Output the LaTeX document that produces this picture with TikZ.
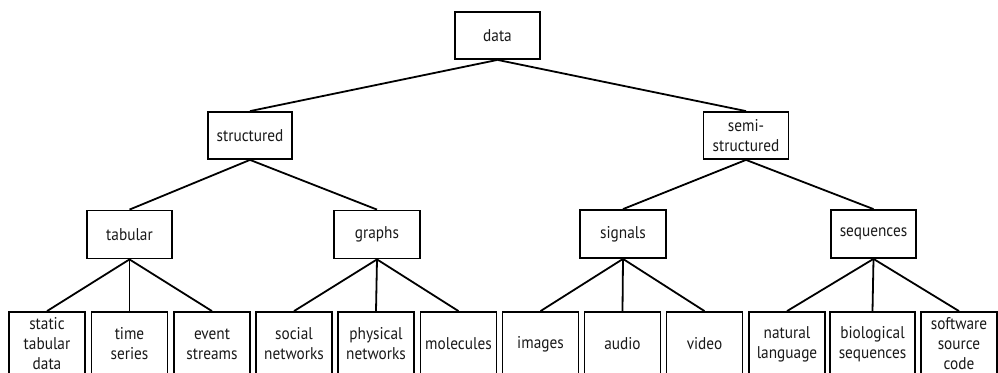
\documentclass[tikz,border=0pt]{standalone}
\usepackage{fontspec}
\setmainfont{PT Sans}[FakeStretch=0.9]
\begin{document}
\begin{tikzpicture}[x=1pt,y=-1pt,
  box/.style={draw=black, line width=1.8pt, fill=white, inner sep=0pt, align=center,
    font=\fontsize{17}{20}\selectfont, text=black!90},
  inner/.style={box, minimum height=47pt},
  leaf/.style={box, minimum width=76pt, minimum height=64pt},
  edge/.style={line width=1.8pt, black}]
\useasboundingbox (0,0) rectangle (998,372);
\clip (0,0) rectangle (998,372);

% root and first level
\node[inner, minimum width=85pt] (data) at (497.5,35.5) {data};
\node[inner, minimum width=84pt] (str) at (250,135.5) {structured};
\node[inner, minimum width=85pt] (semi) at (746,135.5) {semi-\\structured};

% second level
\node[inner, minimum width=85pt, minimum height=48pt] (tab) at (129.5,234.5) {tabular};
\node[inner, minimum width=86pt, minimum height=48pt] (gra) at (377,234.5) {graphs};
\node[inner, minimum width=86pt, minimum height=48pt] (sig) at (623,234) {signals};
\node[inner, minimum width=85pt, minimum height=48pt] (seq) at (873.5,234) {sequences};

% leaves
\node[leaf] (l1) at (47,344) {static\\tabular\\data};
\node[leaf] (l2) at (129.5,344) {time\\series};
\node[leaf] (l3) at (212,344) {event\\streams};
\node[leaf] (l4) at (294,344) {social\\networks};
\node[leaf] (l5) at (376,344) {physical\\networks};
\node[leaf] (l6) at (458.5,344) {molecules};
\node[leaf] (l7) at (540.5,344) {images};
\node[leaf] (l8) at (622.5,344) {audio};
\node[leaf] (l9) at (704.5,344) {video};
\node[leaf] (l10) at (787,344) {natural\\language};
\node[leaf, minimum width=85pt] (l11) at (872.5,344) {biological\\sequences};
\node[leaf] (l12) at (959,344) {software\\source\\code};

% connectors
\foreach \p/\c in {data/str, data/semi, str/tab, str/gra, semi/sig, semi/seq,
                   tab/l1, tab/l2, tab/l3, gra/l4, gra/l5, gra/l6,
                   sig/l7, sig/l8, sig/l9, seq/l10, seq/l11, seq/l12}
  \draw[edge] (\p.south) -- (\c.north);
\end{tikzpicture}
\end{document}
